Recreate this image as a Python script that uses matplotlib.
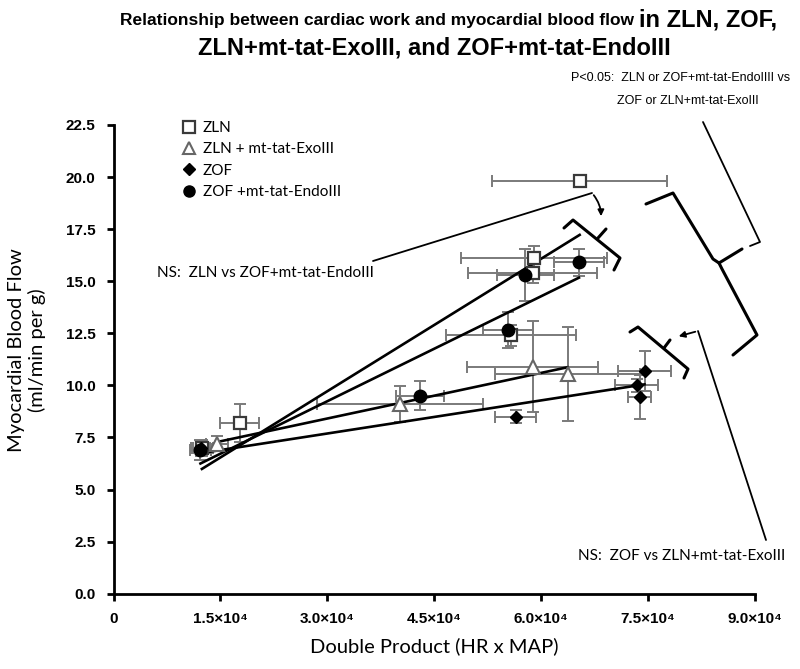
import matplotlib
matplotlib.use("Agg")
import matplotlib.pyplot as plt
from matplotlib.lines import Line2D
from matplotlib.patches import FancyArrowPatch
from matplotlib import font_manager
import numpy as np

# ---------------------------------
# Values (mean +/- SE)
# x = double product (HR x MAP), y = myocardial blood flow (ml/min per g)
# ---------------------------------
zln_x = [12400, 17700, 55800, 58800, 59000, 65400]
zln_y = [7.0, 8.2, 12.4, 15.4, 16.1, 19.8]
zln_xerr = [1500, 2700, 9100, 9000, 10300, 12300]
zln_yerr = [0.4, 0.9, 0.5, 0.5, 0.6, 0.3]

exo_x = [14500, 40200, 58800, 63700]
exo_y = [7.2, 9.1, 10.9, 10.55]
exo_xerr = [1500, 11600, 9200, 10200]
exo_yerr = [0.35, 0.85, 2.2, 2.25]

zof_x = [12300, 56400, 73400, 73800, 74500]
zof_y = [7.0, 8.5, 10.0, 9.45, 10.7]
zof_xerr = [1200, 2900, 3000, 1600, 3700]
zof_yerr = [0.4, 0.3, 0.3, 1.05, 0.95]

endo_x = [12200, 43000, 55400, 57800, 65300]
endo_y = [6.9, 9.5, 12.65, 15.3, 15.9]
endo_xerr = [1500, 3300, 3500, 4000, 3500]
endo_yerr = [0.5, 0.7, 0.85, 1.25, 0.65]

# regression lines as drawn (ZLN, ZLN+Exo, ZOF, ZOF+Endo)
fit_slope = [2.12e-4, 7.3e-5, 5.3e-5, 1.68e-4]
fit_intercept = [3.36, 6.22, 6.10, 4.20]

legend_labels = ["ZLN", "ZLN + mt-tat-ExoIII", "ZOF", "ZOF +mt-tat-EndoIII"]
x_ticks = [0, 15000, 30000, 45000, 60000, 75000, 90000]
x_tick_labels = ["0", "1.5×10⁴", "3.0×10⁴", "4.5×10⁴", "6.0×10⁴", "7.5×10⁴", "9.0×10⁴"]
y_ticks = [0, 2.5, 5, 7.5, 10, 12.5, 15, 17.5, 20, 22.5]


def has_font(name):
    return any(f.name == name for f in font_manager.fontManager.ttflist)


# narrow font if there is one, otherwise shrink the regular one
if has_font("Liberation Sans Narrow"):
    NARROW, SHRINK = "Liberation Sans Narrow", 1.0
else:
    NARROW, SHRINK = "Liberation Sans", 0.82
BODY = ["Lato", "DejaVu Sans"]
TICK = ["Liberation Sans", "DejaVu Sans"]

W, H = 800, 669


def P(x, y):
    # pixel position -> figure fraction
    return x / W, 1 - y / H


def polyline(fig, pts, lw=2.0):
    xs = [p[0] / W for p in pts]
    ys = [1 - p[1] / H for p in pts]
    fig.add_artist(Line2D(xs, ys, transform=fig.transFigure, color="black",
                          lw=lw, solid_capstyle="round", solid_joinstyle="round"))


def main():
    fig = plt.figure(figsize=(8, 6.69), dpi=100)
    ax = fig.add_axes([113.5 / W, 1 - 593.7 / H, (755 - 113.5) / W, (593.7 - 125) / H])

    groups = [
        (zln_x, zln_y, zln_xerr, zln_yerr),
        (exo_x, exo_y, exo_xerr, exo_yerr),
        (zof_x, zof_y, zof_xerr, zof_yerr),
        (endo_x, endo_y, endo_xerr, endo_yerr),
    ]
    styles = [
        dict(marker="s", ms=9, mfc="white", mec="#3a3a3a", mew=1.6),
        dict(marker="^", ms=10, mfc="white", mec="#666666", mew=1.5),
        dict(marker="D", ms=6.5, mfc="black", mec="black", mew=1),
        dict(marker="o", ms=9, mfc="black", mec="black", mew=1),
    ]

    # error bars
    for gx, gy, gxe, gye in groups:
        ax.errorbar(gx, gy, xerr=gxe, yerr=gye, fmt="none", ecolor="#7a7a7a",
                    elinewidth=1.4, capsize=4, capthick=1.4, zorder=2)

    # regression lines over each group's range
    for (gx, gy, _, _), m, b in zip(groups, fit_slope, fit_intercept):
        xs = np.array([min(gx), max(gx)])
        ax.plot(xs, m * xs + b, color="black", lw=1.9, zorder=3)

    # markers
    for (gx, gy, _, _), st in zip(groups, styles):
        ax.plot(gx, gy, ls="none", zorder=4, **st)

    ax.set_xlim(0, 90000)
    ax.set_ylim(0, 22.5)
    ax.spines["top"].set_visible(False)
    ax.spines["right"].set_visible(False)
    for s in ("left", "bottom"):
        ax.spines[s].set_linewidth(2)
    ax.tick_params(direction="out", length=5, width=2, pad=8)
    ax.set_xticks(x_ticks)
    ax.set_xticklabels(x_tick_labels, family=TICK, fontweight="bold", fontsize=11)
    ax.set_yticks(y_ticks)
    ax.set_yticklabels([f"{v:.1f}" for v in y_ticks], family=TICK, fontweight="bold", fontsize=11)

    # legend
    handles = [Line2D([], [], ls="none", **st) for st in styles]
    handles[0].set_markersize(8)
    handles[1].set_markersize(8)
    handles[3].set_markersize(8)
    fig.legend(handles, legend_labels, loc="upper left", bbox_to_anchor=P(176, 115),
               frameon=False, handlelength=0.9, handletextpad=0.45, labelspacing=0.48,
               borderaxespad=0, prop={"family": BODY, "size": 11})

    # axis labels
    fig.text(*P(27, 350), "Myocardial Blood Flow\n(ml/min per g)", rotation=90,
             ha="center", va="center", family=BODY, fontsize=14.5, linespacing=1.25)
    fig.text(*P(434, 646), "Double Product (HR x MAP)", ha="center", va="center",
             family=BODY, fontsize=14.5)

    # title
    fig.text(*P(639, 20), "Relationship between cardiac work and myocardial blood flow ",
             ha="right", va="center", family=NARROW, fontweight="bold",
             fontsize=15.3 * SHRINK)
    fig.text(*P(639, 20), "in ZLN, ZOF,", ha="left", va="center",
             family=NARROW, fontweight="bold", fontsize=17)
    fig.text(*P(434, 48), "ZLN+mt-tat-ExoIII, and ZOF+mt-tat-EndoIII", ha="center",
             va="center", family=NARROW, fontweight="bold", fontsize=17)

    # significance annotations
    fig.text(*P(681, 78), "P<0.05:  ZLN or ZOF+mt-tat-EndoIIII vs", ha="center",
             va="center", family=NARROW, fontsize=11 * SHRINK)
    fig.text(*P(688, 101), "ZOF or ZLN+mt-tat-ExoIII", ha="center", va="center",
             family=NARROW, fontsize=11 * SHRINK)
    fig.text(*P(157, 273), "NS:  ZLN vs ZOF+mt-tat-EndoIII", ha="left", va="center",
             family=BODY, fontsize=11)
    fig.text(*P(578, 556), "NS:  ZOF vs ZLN+mt-tat-ExoIII", ha="left", va="center",
             family=BODY, fontsize=11)

    # brackets
    polyline(fig, [(564, 228), (573, 220), (620, 258), (614, 270)], lw=2.2)
    polyline(fig, [(598, 238), (606, 229)], lw=2.2)
    polyline(fig, [(630, 332), (638, 327), (688, 369), (684, 378)], lw=2.2)
    polyline(fig, [(664, 348), (670, 340)], lw=2.2)
    polyline(fig, [(646, 204), (673, 193), (713, 259), (719, 263), (742, 249)], lw=2.2)
    polyline(fig, [(719, 263), (722, 269), (757, 335), (733, 355)], lw=2.2)

    # leader lines
    polyline(fig, [(703, 122), (760, 242), (750, 246)], lw=1.3)
    polyline(fig, [(373, 261), (592, 193)], lw=1.3)
    fig.add_artist(FancyArrowPatch(
        P(592, 193), P(601, 219), transform=fig.transFigure, arrowstyle="-|>",
        mutation_scale=9, lw=1.3, color="black", connectionstyle="arc3,rad=-0.2"))
    polyline(fig, [(766, 540), (698, 331)], lw=1.3)
    fig.add_artist(FancyArrowPatch(
        P(698, 331), P(676, 337), transform=fig.transFigure, arrowstyle="-|>",
        mutation_scale=9, lw=1.3, color="black"))

    fig.savefig("out.png", dpi=100)


if __name__ == "__main__":
    main()
